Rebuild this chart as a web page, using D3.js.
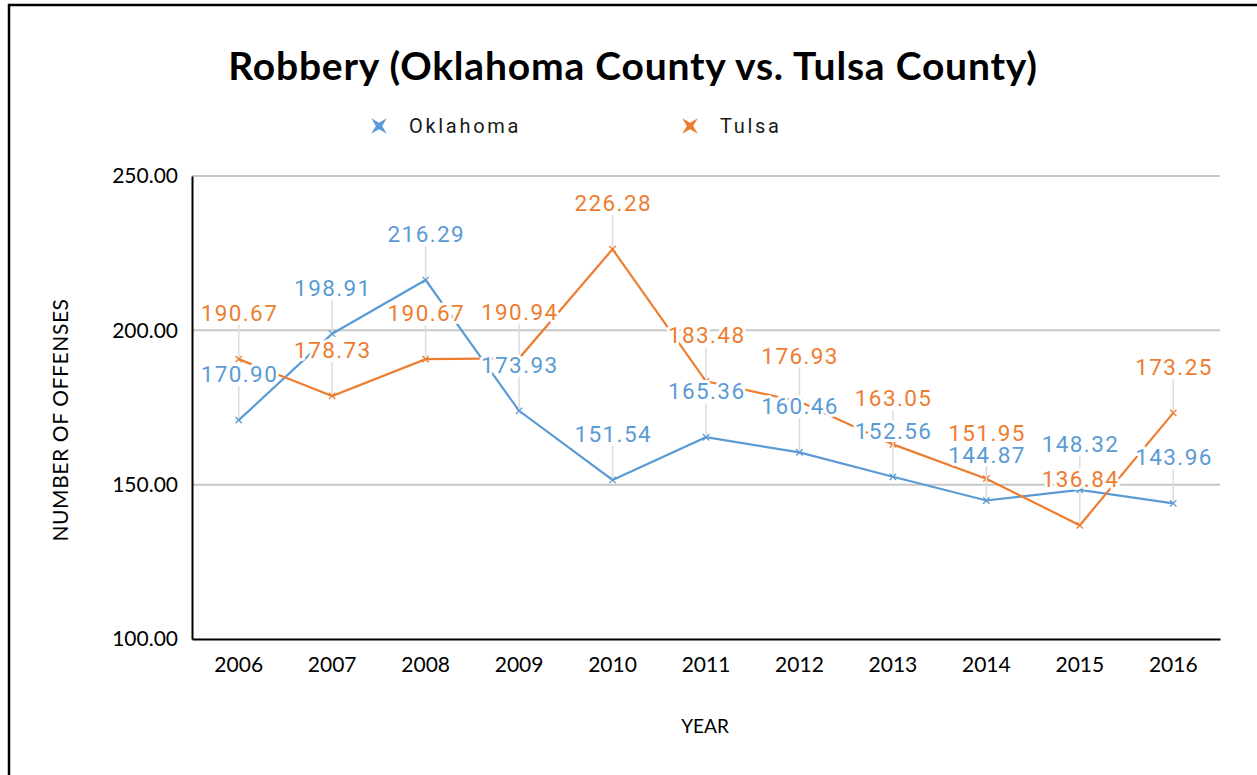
<!DOCTYPE html>
<html>
<head>
<meta charset="utf-8">
<script src="https://cdn.jsdelivr.net/npm/d3@7"></script>
<style>
  html, body { margin: 0; padding: 0; background: #fff; }
  svg { display: block; }
</style>
</head>
<body>
<svg id="chart" width="1257" height="775"></svg>
<script>
// Robbery offences per year, Oklahoma County vs. Tulsa County
const years = ["2006", "2007", "2008", "2009", "2010", "2011", "2012", "2013", "2014", "2015", "2016"];
const oklahoma = [170.90, 198.91, 216.29, 173.93, 151.54, 165.36, 160.46, 152.56, 144.87, 148.32, 143.96];
const tulsa = [190.67, 178.73, 190.67, 190.94, 226.28, 183.48, 176.93, 163.05, 151.95, 136.84, 173.25];
const yTicks = [100, 150, 200, 250];
const seriesNames = ["Oklahoma", "Tulsa"];
const seriesColors = ["#5B9BD5", "#ED7D31"];

const svg = d3.select("#chart");
const W = 1257, H = 775;
const plot = { left: 192, right: 1220, top: 176, bottom: 639 };

// Outer chart frame
svg.append("rect")
  .attr("x", 9).attr("y", 5)
  .attr("width", W + 20).attr("height", H + 20)
  .attr("fill", "#fff").attr("stroke", "#000").attr("stroke-width", 2.5);

const x = d3.scaleBand().domain(years).range([plot.left, plot.right]).padding(0);
const cx = d => x(d) + x.bandwidth() / 2;
const y = d3.scaleLinear().domain([100, 250]).range([plot.bottom, plot.top]);

// Horizontal gridlines
svg.append("g")
  .selectAll("line")
  .data(yTicks.filter(t => t > 100))
  .join("line")
  .attr("x1", plot.left).attr("x2", plot.right)
  .attr("y1", d => y(d)).attr("y2", d => y(d))
  .attr("stroke", "#C8C8C8").attr("stroke-width", 2);

// Y axis
const yAxis = svg.append("g")
  .attr("transform", `translate(${plot.left},0)`)
  .call(d3.axisLeft(y).tickValues(yTicks).tickFormat(d3.format(".2f")).tickSize(0).tickPadding(14));
yAxis.select(".domain").attr("stroke", "#000").attr("stroke-width", 2);
yAxis.selectAll("text")
  .attr("font-family", "Lato, 'Open Sans', sans-serif")
  .attr("font-size", 21).attr("fill", "#000");

// X axis
const xAxis = svg.append("g")
  .attr("transform", `translate(0,${plot.bottom})`)
  .call(d3.axisBottom(x).tickSize(0).tickPadding(18));
xAxis.select(".domain").attr("stroke", "#000").attr("stroke-width", 2);
xAxis.selectAll("text")
  .attr("font-family", "Lato, 'Open Sans', sans-serif")
  .attr("font-size", 21).attr("fill", "#000");

// Axis titles
svg.append("text")
  .attr("x", 705).attr("y", 733)
  .attr("text-anchor", "middle")
  .attr("font-family", "Lato, 'Open Sans', sans-serif")
  .attr("font-size", 19).attr("fill", "#000")
  .text("YEAR");

svg.append("text")
  .attr("transform", "translate(68,420) rotate(-90)")
  .attr("text-anchor", "middle")
  .attr("font-family", "Lato, 'Open Sans', sans-serif")
  .attr("font-size", 21)
  .attr("letter-spacing", 0.6)
  .attr("fill", "#000")
  .text("NUMBER OF OFFENSES");

// Chart title
svg.append("text")
  .attr("x", 633).attr("y", 80)
  .attr("text-anchor", "middle")
  .attr("font-family", "Lato, 'Open Sans', sans-serif")
  .attr("font-weight", "bold")
  .attr("font-size", 39)
  .attr("letter-spacing", 0.8)
  .attr("fill", "#000")
  .text("Robbery (Oklahoma County vs. Tulsa County)");

// Series
const series = seriesNames.map((name, i) => ({
  name,
  color: seriesColors[i],
  values: (i === 0 ? oklahoma : tulsa).map((v, j) => ({ year: years[j], value: v }))
}));

const line = d3.line().x(d => cx(d.year)).y(d => y(d.value));

const lineG = svg.append("g");
series.forEach(s => {
  lineG.append("path")
    .datum(s.values)
    .attr("fill", "none")
    .attr("stroke", s.color)
    .attr("stroke-width", 2.2)
    .attr("d", line);
  lineG.selectAll(null)
    .data(s.values)
    .join("path")
    .attr("transform", d => `translate(${cx(d.year)},${y(d.value)})`)
    .attr("d", d3.symbol(d3.symbolX, 28))
    .attr("fill", "none")
    .attr("stroke", s.color)
    .attr("stroke-width", 1.3);
});

// Data labels sit a fixed distance above each point, with a leader line down to it
const labelOffset = 46;
const leaderG = svg.append("g");
const labelG = svg.append("g");
series.forEach(s => {
  leaderG.selectAll(null)
    .data(s.values)
    .join("line")
    .attr("x1", d => cx(d.year)).attr("x2", d => cx(d.year))
    .attr("y1", d => y(d.value) - labelOffset + 12)
    .attr("y2", d => y(d.value) - 2)
    .attr("stroke", "#DCDCDC").attr("stroke-width", 1.5);
});
series.forEach(s => {
  labelG.selectAll(null)
    .data(s.values)
    .join("text")
    .attr("x", d => cx(d.year) + 0.7)
    .attr("y", d => y(d.value) - labelOffset)
    .attr("dy", "0.36em")
    .attr("text-anchor", "middle")
    .attr("font-family", "Roboto, sans-serif")
    .attr("font-size", 22.5)
    .attr("letter-spacing", 1.4)
    .attr("fill", s.color)
    .attr("stroke", "#fff")
    .attr("stroke-width", 6)
    .attr("stroke-linejoin", "round")
    .attr("paint-order", "stroke")
    .text(d => d.value.toFixed(2));
});

// Legend
const star = d3.lineRadial().curve(d3.curveLinearClosed)
  .angle((d, i) => Math.PI / 4 + i * Math.PI / 4)
  .radius((d, i) => (i % 2 === 0 ? 11 : 3.2));
const legendPos = [{ mx: 379, tx: 409 }, { mx: 690, tx: 720 }];
series.forEach((s, i) => {
  const g = svg.append("g");
  g.append("path")
    .attr("transform", `translate(${legendPos[i].mx},126)`)
    .attr("d", star(d3.range(8)))
    .attr("fill", s.color);
  g.append("text")
    .attr("x", legendPos[i].tx).attr("y", 126)
    .attr("dy", "0.35em")
    .attr("font-family", "Roboto, sans-serif")
    .attr("font-size", 20)
    .attr("letter-spacing", 2.7)
    .attr("fill", "#1a1a1a")
    .text(s.name);
});
</script>
</body>
</html>
